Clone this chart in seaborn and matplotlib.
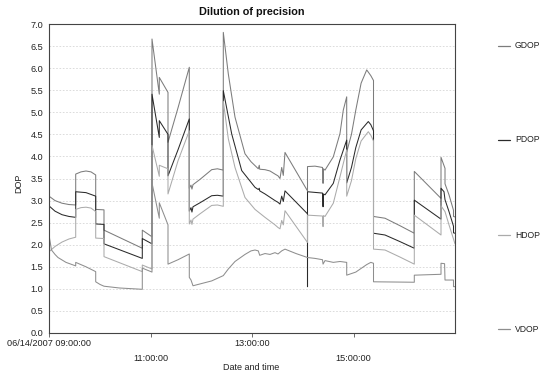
import pandas as pd
import matplotlib
matplotlib.use("Agg")
import matplotlib.pyplot as plt
from matplotlib.lines import Line2D
import seaborn as sns

# series drawn, in legend order
series_names = ["GDOP", "PDOP", "HDOP", "VDOP"]
series_colors = ["#7c7c7c", "#2a2a2a", "#ababab", "#8e8e8e"]

gdop_time = ["09:00:00", "09:07:06", "09:15:22", "09:23:39", "09:31:34", "09:31:34", "09:37:50", "09:43:44",
             "09:49:39", "09:55:13", "09:55:13", "10:05:01", "10:05:01", "10:50:18", "10:50:18", "11:01:46",
             "11:01:46", "11:10:24", "11:10:24", "11:20:41", "11:20:41", "11:32:31", "11:45:52", "11:45:52",
             "11:47:53", "11:49:00", "11:50:15", "11:58:31", "12:12:21", "12:19:06", "12:26:04", "12:26:04",
             "12:31:59", "12:39:54", "12:51:43", "12:58:49", "13:07:27", "13:08:36", "13:09:07", "13:15:22",
             "13:21:17", "13:27:11", "13:30:44", "13:33:06", "13:35:07", "13:37:00", "13:39:01", "14:05:37",
             "14:05:37", "14:14:29", "14:23:21", "14:24:00", "14:24:32", "14:26:18", "14:36:07", "14:44:02",
             "14:47:56", "14:51:58", "14:51:58", "14:57:35", "15:02:43", "15:09:00", "15:15:37", "15:20:28",
             "15:23:39", "15:23:39", "15:37:15", "15:54:59", "16:11:53", "16:11:53", "16:43:27", "16:43:27",
             "16:48:11", "16:48:11", "16:52:55", "16:58:13", "16:58:13", "17:00:00"]
gdop_value = [3.10, 3.00, 2.94, 2.91, 2.90, 3.60, 3.65, 3.67,
              3.65, 3.58, 2.80, 2.79, 2.33, 1.92, 2.33, 2.18,
              6.66, 5.41, 5.79, 5.45, 4.32, 5.10, 6.02, 3.28,
              3.35, 3.26, 3.36, 3.48, 3.70, 3.72, 3.69, 6.81,
              5.87, 4.89, 4.06, 3.88, 3.72, 3.80, 3.71, 3.70,
              3.67, 3.60, 3.56, 3.50, 3.75, 3.57, 4.09, 3.22,
              3.77, 3.78, 3.75, 3.39, 3.72, 3.69, 3.99, 4.52,
              5.05, 5.35, 4.10, 4.50, 5.05, 5.66, 5.96, 5.83,
              5.72, 2.64, 2.60, 2.43, 2.26, 3.66, 3.05, 3.98,
              3.73, 3.38, 3.13, 2.78, 2.64, 2.63]

pdop_time = ["09:00:00", "09:07:06", "09:15:22", "09:23:39", "09:31:34", "09:31:34", "09:43:44", "09:55:13",
             "09:55:13", "10:05:01", "10:05:01", "10:50:18", "10:50:18", "11:01:46", "11:01:46", "11:10:24",
             "11:10:24", "11:20:41", "11:20:41", "11:32:31", "11:45:52", "11:45:52", "11:47:53", "11:49:00",
             "11:50:15", "11:58:31", "12:12:21", "12:19:06", "12:26:04", "12:26:04", "12:36:00", "12:47:49",
             "13:03:33", "13:07:27", "13:08:36", "13:09:07", "13:15:22", "13:27:11", "13:30:44", "13:33:06",
             "13:35:07", "13:37:00", "13:39:01", "14:05:37", "14:05:37", "14:05:37", "14:23:21", "14:24:00",
             "14:24:32", "14:26:18", "14:36:07", "14:44:02", "14:51:58", "14:51:58", "14:57:35", "15:02:43",
             "15:09:00", "15:17:30", "15:20:28", "15:23:39", "15:23:39", "15:37:15", "15:54:59", "16:11:53",
             "16:11:53", "16:43:27", "16:43:27", "16:47:00", "16:48:11", "16:52:55", "16:58:13", "16:58:13",
             "17:00:00"]
pdop_value = [2.88, 2.76, 2.68, 2.64, 2.62, 3.20, 3.18, 3.10,
              2.47, 2.46, 2.02, 1.69, 2.14, 2.02, 5.41, 4.43,
              4.81, 4.50, 3.56, 4.15, 4.85, 2.76, 2.84, 2.74,
              2.86, 2.95, 3.11, 3.12, 3.10, 5.49, 4.51, 3.68,
              3.30, 3.25, 3.28, 3.22, 3.15, 3.00, 2.96, 2.92,
              3.10, 2.98, 3.22, 2.70, 1.05, 3.20, 3.17, 2.86,
              3.15, 3.13, 3.39, 3.92, 4.37, 3.40, 3.75, 4.20,
              4.60, 4.79, 4.72, 4.58, 2.26, 2.22, 2.07, 1.92,
              3.01, 2.58, 3.28, 3.20, 3.02, 2.75, 2.42, 2.27,
              2.26]

hdop_time = ["09:00:00", "09:07:06", "09:15:22", "09:23:39", "09:31:34", "09:31:34", "09:37:50", "09:43:44",
             "09:49:39", "09:55:13", "09:55:13", "10:05:01", "10:05:01", "10:50:18", "10:50:18", "11:01:46",
             "11:01:46", "11:10:24", "11:10:24", "11:20:41", "11:20:41", "11:32:31", "11:45:52", "11:45:52",
             "11:47:53", "11:49:00", "11:50:15", "11:58:31", "12:12:21", "12:19:06", "12:26:04", "12:26:04",
             "12:32:00", "12:39:54", "12:51:43", "13:03:33", "13:15:22", "13:27:11", "13:30:44", "13:33:06",
             "13:35:07", "13:37:00", "13:39:01", "14:05:37", "14:05:37", "14:23:21", "14:24:00", "14:24:32",
             "14:26:18", "14:36:07", "14:44:02", "14:51:58", "14:51:58", "14:57:35", "15:02:43", "15:09:00",
             "15:17:30", "15:20:28", "15:23:39", "15:23:39", "15:37:15", "15:54:59", "16:11:53", "16:11:53",
             "16:43:27", "16:43:27", "16:48:11", "16:52:55", "17:00:00"]
hdop_value = [1.84, 1.96, 2.06, 2.13, 2.17, 2.80, 2.84, 2.85,
              2.83, 2.75, 2.15, 2.14, 1.73, 1.39, 1.54, 1.45,
              4.25, 3.55, 3.80, 3.72, 3.15, 3.90, 4.58, 2.47,
              2.56, 2.46, 2.58, 2.70, 2.89, 2.90, 2.87, 5.25,
              4.40, 3.75, 3.07, 2.80, 2.62, 2.45, 2.39, 2.36,
              2.55, 2.45, 2.77, 2.05, 2.67, 2.65, 2.41, 2.66,
              2.64, 2.94, 3.54, 4.15, 3.10, 3.45, 3.95, 4.35,
              4.56, 4.48, 4.35, 1.90, 1.88, 1.72, 1.56, 2.67,
              2.22, 2.88, 2.75, 2.45, 2.02]

vdop_time = ["09:00:00", "09:02:58", "09:07:06", "09:10:38", "09:20:06", "09:31:34", "09:31:34", "09:43:44",
             "09:55:13", "09:55:13", "10:00:18", "10:05:01", "10:23:07", "10:50:18", "10:50:18", "11:01:46",
             "11:01:46", "11:10:24", "11:10:24", "11:20:41", "11:20:41", "11:32:31", "11:45:52", "11:45:52",
             "11:47:53", "11:50:15", "12:12:21", "12:26:04", "12:31:59", "12:39:54", "12:51:43", "12:58:49",
             "13:03:33", "13:07:27", "13:09:07", "13:15:22", "13:21:17", "13:27:11", "13:30:44", "13:35:07",
             "13:39:01", "13:52:01", "14:05:37", "14:14:29", "14:23:21", "14:24:00", "14:26:18", "14:36:07",
             "14:44:02", "14:51:58", "14:51:58", "15:02:43", "15:15:37", "15:20:28", "15:23:39", "15:23:39",
             "16:11:53", "16:11:53", "16:43:27", "16:43:27", "16:47:40", "16:48:11", "16:58:13", "16:58:13",
             "17:00:00"]
vdop_value = [2.22, 1.88, 1.78, 1.71, 1.60, 1.52, 1.60, 1.50,
              1.39, 1.16, 1.10, 1.06, 1.02, 0.99, 1.47, 1.38,
              3.40, 2.60, 2.95, 2.45, 1.56, 1.66, 1.79, 1.26,
              1.20, 1.07, 1.18, 1.30, 1.45, 1.62, 1.78, 1.86,
              1.88, 1.86, 1.76, 1.80, 1.78, 1.82, 1.79, 1.86,
              1.90, 1.80, 1.71, 1.69, 1.66, 1.56, 1.64, 1.60,
              1.62, 1.60, 1.31, 1.38, 1.55, 1.60, 1.58, 1.16,
              1.15, 1.31, 1.33, 1.58, 1.57, 1.20, 1.20, 1.05,
              1.05]

y_ticks = [0.0, 0.5, 1.0, 1.5, 2.0, 2.5, 3.0, 3.5, 4.0, 4.5, 5.0, 5.5, 6.0, 6.5, 7.0]
x_tick_times = ["09:00:00", "11:00:00", "13:00:00", "15:00:00"]
x_tick_labels = ["06/14/2007 09:00:00", "\n11:00:00", "13:00:00", "\n15:00:00"]
day = "2007-06-14 "


def make_frame(name, times, values):
    return pd.DataFrame({"time": pd.to_datetime([day + t for t in times]),
                         "DOP": values, "series": name})


df = pd.concat([
    make_frame("GDOP", gdop_time, gdop_value),
    make_frame("PDOP", pdop_time, pdop_value),
    make_frame("HDOP", hdop_time, hdop_value),
    make_frame("VDOP", vdop_time, vdop_value),
], ignore_index=True)

sns.set_theme(style="white")
plt.rcParams["font.family"] = ["Liberation Sans", "DejaVu Sans"]

W, H = 542, 371
fig = plt.figure(figsize=(W / 100, H / 100), dpi=100)
ax = fig.add_axes([49 / W, 1 - 333 / H, (455 - 49) / W, (333 - 24) / H])

sns.lineplot(data=df, x="time", y="DOP", hue="series", hue_order=series_names,
             palette=dict(zip(series_names, series_colors)), estimator=None,
             sort=False, linewidth=0.75, legend=False, ax=ax)

ax.set_xlim(pd.Timestamp(day + "09:00:00"), pd.Timestamp(day + "17:00:00"))
ax.set_ylim(0, 7)
ax.set_yticks(y_ticks)
ax.set_yticklabels([f"{v:.1f}" for v in y_ticks])
ax.set_xticks(pd.to_datetime([day + t for t in x_tick_times]))
ax.set_xticklabels(x_tick_labels)
for lbl in ax.get_xticklabels():
    lbl.set_linespacing(1.8)
ax.tick_params(axis="x", length=3, width=0.6, color="#555555", pad=1.5,
               labelsize=6.6, labelcolor="#222222", bottom=True)
ax.tick_params(axis="y", length=0, pad=4, labelsize=6.6, labelcolor="#222222")
ax.grid(axis="y", color="#d6d6d6", linestyle=(0, (2, 2)), linewidth=0.6)
for s in ax.spines.values():
    s.set_color("#444444")
    s.set_linewidth(0.8)

ax.set_ylabel("DOP", fontsize=6.5, color="#222222")
ax.yaxis.set_label_coords(-0.063, 0.485)
ax.set_xlabel("Date and time", fontsize=6.5, color="#222222")
ax.xaxis.set_label_coords(0.497, -0.097)

fig.text(252 / W, 1 - 12 / H, "Dilution of precision", ha="center", va="center",
         fontsize=7.8, fontweight="bold", color="#111111")

# legend column on the right
legend_y = [46, 140, 235, 329]
for name, color, yp in zip(series_names, series_colors, legend_y):
    fig.add_artist(Line2D([498 / W, 510 / W], [1 - yp / H, 1 - yp / H],
                          color=color, linewidth=0.9))
    fig.text(515 / W, 1 - yp / H, name, ha="left", va="center",
             fontsize=6.2, color="#222222")

fig.savefig("out.png", dpi=100)
